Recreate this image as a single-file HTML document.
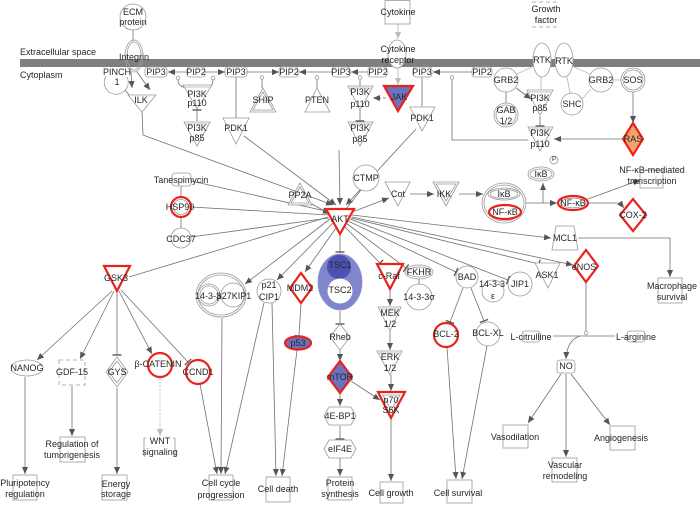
<!DOCTYPE html>
<html><head><meta charset="utf-8"><style>
html,body{margin:0;padding:0;background:#fff;}
svg{display:block;}
text{font-family:"Liberation Sans",Arial,sans-serif;font-size:9px;fill:#262626;text-anchor:middle;dominant-baseline:central;}
.e{stroke:#707070;stroke-width:0.8;fill:none;}
.lg{stroke:#bdbdbd;stroke-width:0.9;fill:none;}
.n{stroke:#9a9a9a;stroke-width:0.8;fill:#fff;}
.nn{stroke:#9a9a9a;stroke-width:0.8;fill:none;}
.r{stroke:#e8231c;stroke-width:2.2;fill:#fff;}
.rb{stroke:#e8231c;stroke-width:2.2;fill:#6b72c2;}
</style></head><body>
<svg width="700" height="511" viewBox="0 0 700 511" xmlns="http://www.w3.org/2000/svg">
<defs>
<marker id="a" viewBox="0 0 8 8" refX="8" refY="4" markerWidth="7" markerHeight="7" orient="auto" markerUnits="userSpaceOnUse"><path d="M0,0.5 L8,4 L0,7.5 z" fill="#555"/></marker>
<marker id="ag" viewBox="0 0 8 8" refX="8" refY="4" markerWidth="7" markerHeight="7" orient="auto" markerUnits="userSpaceOnUse"><path d="M0,0.5 L8,4 L0,7.5 z" fill="#bbb"/></marker>
<marker id="t" viewBox="0 0 2 10" refX="1" refY="5" markerWidth="2" markerHeight="9" orient="auto" markerUnits="userSpaceOnUse"><path d="M1,0 V10" stroke="#555" stroke-width="1.5"/></marker>
</defs>

<!-- membrane -->
<rect x="20" y="59" width="680" height="8" fill="#7f7f7f"/>
<text x="20" y="52" style="text-anchor:start">Extracellular space</text>
<text x="20" y="75" style="text-anchor:start">Cytoplasm</text>

<!-- ===== EDGES ===== -->
<g>
<path class="e" d="M133,30 L133,41"/>
<path class="e" d="M131,72 L132,88" marker-end="url(#a)"/>
<path class="e" d="M137,72 L150,90" marker-end="url(#a)"/>
<path class="e" d="M125,90 L130,96"/>
<path class="e" d="M142,111 L143,135 L333,205" marker-end="url(#a)"/>
<!-- PIP row -->
<path class="e" d="M187,72 L168,72" marker-end="url(#a)"/>
<path class="e" d="M205,72 L225,72" marker-end="url(#a)"/>
<path class="e" d="M186,88 Q178,86 178,80"/><circle cx="178" cy="78" r="1.8" class="nn"/>
<path class="e" d="M209,88 Q213,86 213,80"/><circle cx="213" cy="78" r="1.8" class="nn"/>
<path class="e" d="M197,121 L197,110" marker-end="url(#t)"/>
<path class="e" d="M236,77 L236,118"/>
<path class="e" d="M247,72 L279,72" marker-end="url(#a)"/>
<path class="e" d="M262,88 L262,79"/><circle cx="262" cy="77.5" r="1.8" class="nn"/>
<path class="e" d="M332,72 L299,72" marker-end="url(#a)"/>
<path class="e" d="M317,88 L317,79"/><circle cx="317" cy="77.5" r="1.8" class="nn"/>
<path class="e" d="M368,72 L351,72" marker-end="url(#a)"/>
<path class="e" d="M360,86 L360,79"/><circle cx="360" cy="77.5" r="1.8" class="nn"/>
<path class="e" d="M472,72 L433,72" marker-end="url(#a)"/>
<path class="e" d="M452,79 L452,140 L528,140"/><circle cx="452" cy="77.5" r="1.8" class="nn"/>
<path class="e" d="M360,145 L360,145"/>
<path class="e" d="M197,145 L197,145"/>
<path class="e" d="M422,77 L422,107"/>
<path class="e" d="M244,136 L336,205" marker-end="url(#a)"/>
<path class="e" d="M416,129 L346,205" marker-end="url(#a)"/>
<path class="e" d="M339,150 L340,205" marker-end="url(#a)"/>
<path class="e" d="M386,98 L373,98" stroke-dasharray="3,2" marker-end="url(#a)"/>
<path class="lg" d="M398,24 L398,39" marker-end="url(#ag)"/>
<path class="lg" d="M398,68 L398,85" marker-end="url(#ag)"/>
<!-- top right -->
<path class="lg" d="M517,74 L534,66"/>
<path class="lg" d="M541,77 L541,91"/>
<path class="e" d="M506,92 L506,103"/>
<path class="e" d="M516,88 L531,99" marker-end="url(#a)"/>
<path class="e" d="M540,116 L540,126" marker-end="url(#t)"/>
<path class="lg" d="M567,77 L570,93"/>
<path class="lg" d="M582,99 L591,89"/>
<path class="lg" d="M613,80 L621,80"/>
<path class="lg" d="M572,66 L590,74"/>
<path class="e" d="M633,92 L633,123" marker-end="url(#a)"/>
<path class="e" d="M623,139 L554,139" marker-end="url(#a)"/>
<!-- AKT inputs -->
<path class="e" d="M191,181 L330,212" marker-end="url(#a)"/>
<path class="e" d="M191,207 L329,215"/>
<path class="e" d="M191,237 L329,218"/>
<path class="e" d="M181,186 L181,197"/>
<path class="e" d="M181,217 L181,228"/>
<path class="e" d="M310,203 L330,214" marker-end="url(#a)"/>
<path class="e" d="M361,190 L346,209"/>
<!-- AKT outputs -->
<path class="e" d="M352,212 L389,198" marker-end="url(#a)"/>
<path class="e" d="M410,194 L434,194" marker-end="url(#a)"/>
<path class="e" d="M459,194 L483,194" marker-end="url(#a)"/>
<path class="e" d="M526,203 L557,203" marker-end="url(#a)"/>
<path class="e" d="M543,203 L543,183" marker-end="url(#a)"/>
<path class="e" d="M588,199 L640,180" marker-end="url(#a)"/>
<path class="e" d="M588,203 L620,203 L624,208" marker-end="url(#a)"/>
<path class="e" d="M352,215 L551,238" marker-end="url(#a)"/>
<path class="e" d="M578,238 L670,238 L670,277" marker-end="url(#a)"/>
<path class="e" d="M352,217 L573,265" marker-end="url(#a)"/>
<path class="e" d="M351,218 L539,264" marker-end="url(#t)"/>
<path class="e" d="M350,219 L508,280" marker-end="url(#t)"/>
<path class="e" d="M348,221 L456,272" marker-end="url(#t)"/>
<path class="e" d="M346,223 L406,268" marker-end="url(#t)"/>
<path class="e" d="M344,226 L380,263" marker-end="url(#t)"/>
<path class="e" d="M340,234 L340,252" marker-end="url(#t)"/>
<path class="e" d="M336,228 L305,272" marker-end="url(#a)"/>
<path class="e" d="M333,223 L277,280" marker-end="url(#a)"/>
<path class="e" d="M330,219 L245,284" marker-end="url(#a)"/>
<path class="e" d="M328,217 L129,277"/>
<!-- lower middle -->
<path class="e" d="M419,279 L419,284"/>
<path class="e" d="M463,288 L450,322" marker-end="url(#t)"/>
<path class="e" d="M471,288 L484,321" marker-end="url(#t)"/>
<path class="e" d="M447,347 L456,479" marker-end="url(#a)"/>
<path class="e" d="M487,346 L462,479" marker-end="url(#a)"/>
<path class="e" d="M390,289 L390,306" marker-end="url(#a)"/>
<path class="e" d="M390,331 L390,350" marker-end="url(#a)"/>
<path class="e" d="M391,375 L391,391" marker-end="url(#a)"/>
<path class="e" d="M391,418 L391,481" marker-end="url(#a)"/>
<path class="e" d="M340,311 L340,324" marker-end="url(#t)"/>
<path class="e" d="M340,350 L340,361" marker-end="url(#a)"/>
<path class="e" d="M351,381 L380,400" marker-end="url(#a)"/>
<path class="e" d="M340,393 L340,406" marker-end="url(#a)"/>
<path class="e" d="M340,426 L340,439" marker-end="url(#t)"/>
<path class="e" d="M340,458 L340,476" marker-end="url(#a)"/>
<path class="e" d="M301,303 L299,336" marker-end="url(#t)"/>
<path class="e" d="M297,350 L282,476" marker-end="url(#a)"/>
<path class="e" d="M272,303 L276,476" marker-end="url(#a)"/>
<path class="e" d="M264,303 L225,474" marker-end="url(#a)"/>
<path class="e" d="M222,318 L221,474" marker-end="url(#a)"/>
<path class="e" d="M200,384 L217,474" marker-end="url(#a)"/>
<!-- GSK3 outputs -->
<path class="e" d="M112,291 L37,360" marker-end="url(#a)"/>
<path class="e" d="M114,291 L80,359" marker-end="url(#a)"/>
<path class="e" d="M117,291 L117,355" marker-end="url(#t)"/>
<path class="e" d="M119,291 L152,354" marker-end="url(#a)"/>
<path class="e" d="M121,290 L188,362" marker-end="url(#t)"/>
<path class="e" d="M25,377 L25,474" marker-end="url(#a)"/>
<path class="e" d="M72,386 L72,436" marker-end="url(#a)"/>
<path class="e" d="M117,388 L117,474" marker-end="url(#a)"/>
<path class="lg" d="M160,378 L160,436" stroke-dasharray="2,1.5" marker-end="url(#ag)"/>
<!-- eNOS / NO -->
<path class="e" d="M586,283 L586,331"/><circle cx="586" cy="333" r="1.8" class="nn"/>
<path class="e" d="M553,336 L615,336"/>
<path class="e" d="M580,336 Q567,340 566,359" marker-end="url(#a)"/>
<path class="e" d="M561,374 L528,423" marker-end="url(#a)"/>
<path class="e" d="M566,374 L566,457" marker-end="url(#a)"/>
<path class="e" d="M571,374 L610,425" marker-end="url(#a)"/>
</g>

<!-- ===== NODES ===== -->
<!-- top-left -->
<circle cx="133" cy="17" r="13" class="n"/>
<text x="133" y="12">ECM</text><text x="133" y="22">protein</text>
<ellipse cx="134" cy="56" rx="9" ry="16" class="nn"/>
<ellipse cx="134" cy="56" rx="7" ry="14" class="nn"/>
<text x="134" y="57">Integrin</text>
<path d="M106,76 A12,12 0 1 0 127,77" class="nn"/>
<text x="117" y="72">PINCH</text><text x="117" y="82">1</text>
<polygon points="128,95 156,95 142,112" class="n"/><text x="141" y="100">ILK</text>

<rect x="145" y="67" width="22" height="10" rx="3" class="n"/><text x="156" y="72">PIP3</text>
<rect x="187" y="67" width="18" height="10" rx="3" class="n"/><text x="196" y="72">PIP2</text>
<rect x="225" y="67" width="22" height="10" rx="3" class="n"/><text x="236" y="72">PIP3</text>
<rect x="279" y="67" width="19" height="10" rx="3" class="n"/><text x="289" y="72">PIP2</text>
<rect x="332" y="67" width="18" height="10" rx="3" class="n"/><text x="341" y="72">PIP3</text>
<rect x="368" y="67" width="19" height="10" rx="3" class="n"/><text x="378" y="72">PIP2</text>
<rect x="413" y="67" width="19" height="10" rx="3" class="n"/><text x="422" y="72">PIP3</text>
<rect x="472" y="67" width="20" height="10" rx="3" class="n"/><text x="482" y="72">PIP2</text>

<polygon points="183,85 212,85 197,109" class="n"/><line x1="185" y1="87" x2="210" y2="87" stroke="#aaa" stroke-width="0.8"/>
<text x="197" y="94">PI3K</text><text x="197" y="103">p110</text>
<polygon points="184,122 210,122 197,146" class="n"/><line x1="186" y1="124" x2="208" y2="124" stroke="#aaa" stroke-width="0.8"/>
<text x="197" y="128">PI3K</text><text x="197" y="138">p85</text>
<polygon points="223,118 249,118 236,144" class="n"/><text x="236" y="128">PDK1</text>
<polygon points="250,112 276,112 263,88" class="n"/><polygon points="253,110 273,110 263,92" class="nn"/>
<text x="263" y="100">SHIP</text>
<polygon points="305,112 330,112 317,88" class="n"/><text x="317" y="100">PTEN</text>
<polygon points="348,86 373,86 360,110" class="n"/><line x1="350" y1="88" x2="371" y2="88" stroke="#aaa" stroke-width="0.8"/>
<text x="360" y="92">PI3K</text><text x="360" y="104">p110</text>
<polygon points="348,122 373,122 360,146" class="n"/><line x1="350" y1="124" x2="371" y2="124" stroke="#aaa" stroke-width="0.8"/>
<text x="360" y="128">PI3K</text><text x="360" y="139">p85</text>
<path class="e" d="M360,110 L360,121" marker-end="url(#t)"/>
<polygon points="384,86 413,86 398,111" class="rb"/><text x="399" y="97">JAK</text>
<rect x="385" y="0.5" width="25" height="23.5" class="n"/><text x="398" y="12">Cytokine</text>
<ellipse cx="397" cy="54" rx="9" ry="14" class="n"/>
<text x="398" y="49">Cytokine</text><text x="398" y="60">receptor</text>
<polygon points="410,107 435,107 422,131" class="n"/><text x="422" y="118">PDK1</text>

<!-- top-right -->
<path d="M532,2 H557 M532,27 H557" stroke="#999" stroke-width="0.8" stroke-dasharray="4,3" fill="none"/>
<text x="546" y="9">Growth</text><text x="546" y="20">factor</text>
<ellipse cx="542" cy="60" rx="9" ry="17" class="n"/><text x="542" y="60">RTK</text>
<ellipse cx="564" cy="60" rx="9" ry="17" class="n"/><text x="564" y="61">RTK</text>
<circle cx="506" cy="80" r="12" class="n"/><text x="506" y="80">GRB2</text>
<circle cx="506" cy="115" r="12" class="n"/><circle cx="506" cy="115" r="10" class="nn"/>
<text x="506" y="110">GAB</text><text x="506" y="121">1/2</text>
<polygon points="527,90 553,90 540,115" class="n"/><line x1="529" y1="92" x2="551" y2="92" stroke="#aaa" stroke-width="0.8"/>
<text x="540" y="98">PI3K</text><text x="540" y="108">p85</text>
<polygon points="528,127 553,127 540,151" class="n"/><line x1="530" y1="129" x2="551" y2="129" stroke="#aaa" stroke-width="0.8"/>
<text x="540" y="133">PI3K</text><text x="540" y="144">p110</text>
<circle cx="572" cy="104" r="11" class="n"/><text x="572" y="104">SHC</text>
<circle cx="601" cy="80" r="12" class="n"/><text x="601" y="80">GRB2</text>
<circle cx="633" cy="80" r="12" class="n"/><circle cx="633" cy="80" r="10" class="nn"/><text x="633" y="80">SOS</text>
<polygon points="633,123 643,139 633,155 623,139" style="fill:#f3a46e;stroke:#e8231c;stroke-width:2.2"/>
<text x="633" y="139">RAS</text>

<!-- NF-kB area -->
<circle cx="554" cy="160" r="4" class="n"/><text x="554" y="160" style="font-size:6px">P</text>
<ellipse cx="541" cy="174" rx="13" ry="7" class="n"/><ellipse cx="541" cy="174" rx="11" ry="5" class="nn"/>
<text x="541" y="174">IκB</text>
<ellipse cx="504" cy="203" rx="22" ry="20" class="n"/><ellipse cx="504" cy="203" rx="20" ry="18" class="nn"/>
<ellipse cx="504" cy="194" rx="16" ry="6" class="nn"/><ellipse cx="504" cy="194" rx="14" ry="4.5" class="nn"/>
<text x="504" y="194">IκB</text>
<ellipse cx="505" cy="212" rx="16" ry="7" class="r"/><text x="505" y="212">NF-κB</text>
<ellipse cx="573" cy="203" rx="15" ry="7" class="r"/><ellipse cx="573" cy="203" rx="12.5" ry="4.8" class="nn"/>
<text x="573" y="203">NF-κB</text>
<rect x="640" y="170" width="23" height="18" class="n"/>
<text x="652" y="170">NF-κB-mediated</text><text x="652" y="181">transcription</text>
<polygon points="633,199 646,215 633,231 620,215" class="r"/><text x="633" y="215">COX-2</text>
<polygon points="385,182 410,182 398,206" class="n"/><text x="398" y="194">Cot</text>
<polygon points="433,182 459,182 446,206" class="n"/><polygon points="436,184 456,184 446,201" class="nn"/>
<text x="444" y="194">IKK</text>
<circle cx="366" cy="178" r="13" class="n"/><text x="366" y="178">CTMP</text>
<polygon points="288,205 312,205 300,183" class="n"/><polygon points="291,203 309,203 300,187" class="nn"/>
<text x="300" y="195">PP2A</text>

<!-- AKT -->
<polygon points="326,209 354,209 340,234" class="r"/><text x="340" y="219">AKT</text>

<!-- left middle -->
<rect x="172" y="173" width="19" height="13" rx="3" class="n"/><text x="181" y="180">Tanespimycin</text>
<circle cx="181" cy="207" r="10" class="r"/><circle cx="181" cy="207" r="7.5" class="nn"/><text x="180" y="207">HSP90</text>
<circle cx="181" cy="238" r="10" class="n"/><text x="181" y="239">CDC37</text>

<!-- right middle -->
<polygon points="556,226 574,226 578,250 552,250" class="n"/><text x="565" y="238">MCL1</text>
<rect x="658" y="278" width="24" height="25" class="n"/>
<text x="672" y="286">Macrophage</text><text x="672" y="297">survival</text>
<polygon points="586,250 598,266 586,282 574,266" class="r"/><text x="584" y="267">eNOS</text>
<polygon points="535,263 560,263 548,288" class="n"/><text x="547" y="275">ASK1</text>
<circle cx="520" cy="284" r="12" class="n"/><text x="520" y="284">JIP1</text>
<circle cx="493" cy="291" r="11" class="n"/><text x="492" y="284">14-3-3</text><text x="493" y="296">ε</text>
<circle cx="467" cy="277" r="11" class="n"/><text x="467" y="277">BAD</text>
<ellipse cx="419" cy="272" rx="14" ry="7" class="n"/><ellipse cx="419" cy="272" rx="12" ry="5" class="nn"/><text x="419" y="272">FKHR</text>
<circle cx="419" cy="297" r="13" class="n"/><text x="419" y="297">14-3-3σ</text>
<polygon points="377,264 403,264 390,289" class="r"/><text x="389" y="276">c-Raf</text>
<polygon points="378,307 401,307 390,331" class="n"/><line x1="380" y1="309" x2="399" y2="309" stroke="#aaa" stroke-width="0.8"/>
<text x="390" y="313">MEK</text><text x="390" y="324">1/2</text>
<polygon points="377,351 402,351 390,375" class="n"/><line x1="379" y1="353" x2="400" y2="353" stroke="#aaa" stroke-width="0.8"/>
<text x="390" y="357">ERK</text><text x="390" y="368">1/2</text>
<polygon points="378,392 405,392 391,418" class="r"/><polygon points="383,395 400,395 391,410" class="nn"/>
<text x="391" y="400">p70</text><text x="391" y="410">S6K</text>

<!-- TSC -->
<ellipse cx="340" cy="282" rx="22" ry="28" style="fill:#7f86cb;stroke:#8e94cf;stroke-width:0.8"/>
<circle cx="339" cy="267" r="12" style="fill:#4a53b2"/>
<text x="340" y="265">TSC1</text>
<circle cx="340" cy="291" r="12.5" style="fill:#fff"/>
<text x="340" y="290">TSC2</text>
<polygon points="340,324 350,337 340,350 330,337" class="n"/><text x="340" y="337">Rheb</text>
<polygon points="340,361 352,377 340,393 328,377" class="rb"/><text x="340" y="377">mTOR</text>
<polygon points="329,407 351,407 356,416 351,425 329,425 324,416" class="n"/><text x="340" y="416">4E-BP1</text>
<polygon points="329,440 351,440 356,449 351,458 329,458 324,449" class="n"/><text x="340" y="449">eIF4E</text>
<rect x="328" y="477" width="24" height="23" class="n"/>
<text x="340" y="483">Protein</text><text x="340" y="494">synthesis</text>
<rect x="380" y="482" width="23" height="21" class="n"/><text x="391" y="493">Cell growth</text>
<rect x="266" y="477" width="24" height="25" class="n"/><text x="278" y="489">Cell death</text>
<ellipse cx="298" cy="343" rx="13" ry="6.5" class="rb"/><text x="298" y="343">p53</text>
<polygon points="301,273 312,288 301,303 290,288" class="r"/><text x="300" y="288">MDM2</text>
<circle cx="269" cy="291" r="12" class="n"/><text x="269" y="285">p21</text><text x="269" y="297">CIP1</text>
<ellipse cx="221" cy="295" rx="25" ry="22" class="n"/><ellipse cx="221" cy="295" rx="23" ry="20" class="nn"/>
<circle cx="209" cy="295" r="11" class="nn"/><circle cx="209" cy="295" r="9" class="nn"/>
<circle cx="233" cy="295" r="12" class="nn"/>
<text x="208" y="296">14-3-3</text><text x="234" y="296">p27KIP1</text>
<rect x="209" y="475" width="24" height="25" class="n"/>
<text x="221" y="483">Cell cycle</text><text x="221" y="495">progression</text>

<!-- GSK3 branch -->
<polygon points="104,266 130,266 117,291" class="r"/><text x="116" y="278">GSK3</text>
<ellipse cx="27" cy="368" rx="16" ry="8" class="n"/><text x="27" y="368">NANOG</text>
<rect x="59" y="360" width="26" height="25" class="n" stroke-dasharray="4,3"/><text x="72" y="372">GDF-15</text>
<polygon points="117,357 128,372 117,387 106,372" class="n"/><polygon points="117,361 125,372 117,383 109,372" class="nn"/>
<text x="117" y="372">GYS</text>
<circle cx="160" cy="365" r="12" class="r" style="fill:none"/><text x="158" y="364">β-CATENIN</text>
<circle cx="198" cy="372" r="12" class="r" style="fill:none"/><text x="198" y="372">CCND1</text>
<rect x="13" y="475" width="24" height="25" class="n"/>
<text x="25" y="483">Pluripotency</text><text x="25" y="494">regulation</text>
<rect x="60" y="437" width="25" height="25" class="n"/>
<text x="72" y="444">Regulation of</text><text x="72" y="455">tumorigenesis</text>
<rect x="102" y="475" width="25" height="25" class="n"/>
<text x="116" y="484">Energy</text><text x="116" y="494">storage</text>
<path d="M146,438 H144 V456 H146 M173,438 H175 V456 H173" stroke="#999" stroke-width="0.8" fill="none"/>
<text x="160" y="441">WNT</text><text x="160" y="452">signaling</text>

<!-- BCL -->
<circle cx="446" cy="335" r="12" class="r"/><text x="446" y="334">BCL-2</text>
<circle cx="488" cy="334" r="12" class="n"/><text x="488" y="333">BCL-XL</text>
<rect x="447" y="480" width="25" height="23" class="n"/><text x="458" y="493">Cell survival</text>

<!-- NO -->
<rect x="522" y="331" width="18" height="11" rx="3" class="n"/><text x="531" y="337">L-citrulline</text>
<rect x="627" y="331" width="18" height="11" rx="3" class="n"/><text x="636" y="337">L-arginine</text>
<rect x="557" y="360" width="18" height="13" rx="3" class="n"/><text x="566" y="366">NO</text>
<rect x="503" y="425" width="25" height="23" class="n"/><text x="515" y="437">Vasodilation</text>
<rect x="552" y="458" width="25" height="24" class="n"/>
<text x="565" y="465">Vascular</text><text x="565" y="476">remodeling</text>
<rect x="610" y="426" width="25" height="24" class="n"/><text x="621" y="438">Angiogenesis</text>
</svg>
</body></html>
